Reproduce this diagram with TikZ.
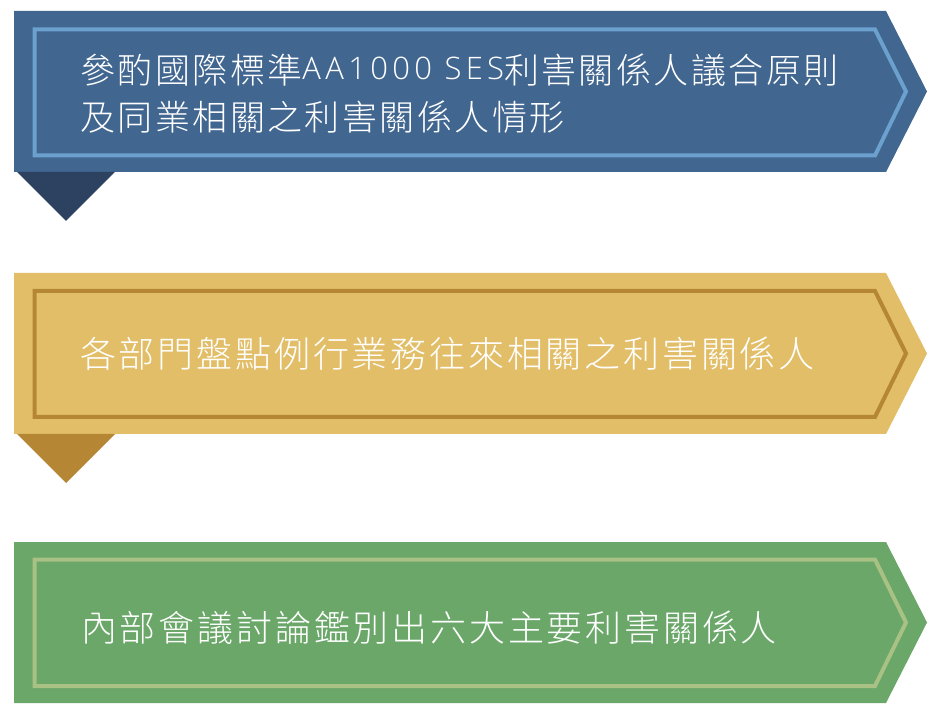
\documentclass[tikz,border=0pt]{standalone}
\usepackage{fontspec}
\IfFontExistsTF{Noto Sans CJK TC Light}{%
  \newfontfamily\cjkA[LetterSpace=7]{Noto Sans CJK TC Light}%
  \newfontfamily\cjkB[LetterSpace=7.8]{Noto Sans CJK TC Light}%
}{%
  \newfontfamily\cjkA[LetterSpace=7]{Noto Sans CJK TC}%
  \newfontfamily\cjkB[LetterSpace=7.8]{Noto Sans CJK TC}%
}
\IfFontExistsTF{Open Sans Light}{%
  \newfontfamily\latA[LetterSpace=14]{Open Sans Light}%
}{%
  \newfontfamily\latA[LetterSpace=14]{Open Sans}%
}
\definecolor{bluefill}{HTML}{416690}
\definecolor{blueline}{HTML}{6CA0CF}
\definecolor{bluedark}{HTML}{2C4260}
\definecolor{goldfill}{HTML}{E2BE68}
\definecolor{goldline}{HTML}{B58734}
\definecolor{greenfill}{HTML}{6AA769}
\definecolor{greenline}{HTML}{A9C184}
\tikzset{
  innerbox/.style={line width=4pt, line join=miter},
  txtA/.style={anchor=base west, inner sep=0pt, text=white, font=\fontsize{35pt}{40pt}\cjkA},
  txtB/.style={anchor=base west, inner sep=0pt, text=white, font=\fontsize{36pt}{40pt}\cjkB}
}
\begin{document}
\begin{tikzpicture}[x=1pt,y=-1pt]
\useasboundingbox (0,0) rectangle (940,708);
% banner 1
\fill[bluefill] (14,11) -- (886,11) -- (927,91.5) -- (886,172) -- (14,172) -- cycle;
\draw[innerbox, blueline] (34.5,29.5) -- (875,29.5) -- (906,91.5) -- (875,155.5) -- (34.5,155.5) -- cycle;
\fill[bluedark] (17,172) -- (115,172) -- (66,221) -- cycle;
\node[txtA] (t1a) at (80,84) {參酌國際標準{\latA\fontsize{31pt}{40pt}\selectfont\raisebox{4pt}{AA1000 SES}}利害關係人議合原則};
\node[txtA] (t1b) at (80,131) {及同業相關之利害關係人情形};
% banner 2
\fill[goldfill] (14,273) -- (886,273) -- (927,353.5) -- (886,434) -- (14,434) -- cycle;
\draw[innerbox, goldline] (34.5,291) -- (875,291) -- (906,353.5) -- (875,417) -- (34.5,417) -- cycle;
\fill[goldline] (17,434) -- (115,434) -- (66,483) -- cycle;
\node[txtB] (t2) at (80,367.5) {各部門盤點例行業務往來相關之利害關係人};
% banner 3
\fill[greenfill] (14,542) -- (886,542) -- (927,622.5) -- (886,703) -- (14,703) -- cycle;
\draw[innerbox, greenline] (34.5,559.5) -- (875,559.5) -- (906,622.5) -- (875,686) -- (34.5,686) -- cycle;
\node[txtB] (t3) at (81,641) {內部會議討論鑑別出六大主要利害關係人};
\end{tikzpicture}
\end{document}
